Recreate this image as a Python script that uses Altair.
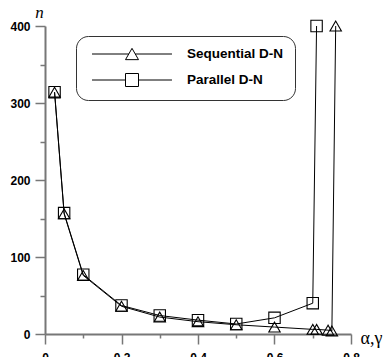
import altair as alt
import pandas as pd

# ---- data ----
series_names = ["Sequential D-N", "Parallel D-N"]
seq_a = [0.025, 0.05, 0.1, 0.2, 0.3, 0.4, 0.5, 0.6, 0.7, 0.71, 0.74, 0.75, 0.76]
seq_n = [314, 156, 76, 36, 22, 16, 12, 9, 6, 6, 5, 4, 400]
par_a = [0.025, 0.05, 0.1, 0.2, 0.3, 0.4, 0.5, 0.6, 0.7, 0.71]
par_n = [314, 157, 77, 37, 24, 18, 13, 21, 40, 400]
x_ticks = [0, 0.1, 0.2, 0.3, 0.4, 0.5, 0.6, 0.7, 0.8]
y_ticks = [0, 50, 100, 150, 200, 250, 300, 350, 400]

rows = []
for i, (a, n) in enumerate(zip(seq_a, seq_n)):
    rows.append({"series": series_names[0], "a": a, "n": n, "i": i})
for i, (a, n) in enumerate(zip(par_a, par_n)):
    rows.append({"series": series_names[1], "a": a, "n": n, "i": i})
df = pd.DataFrame(rows)

AXIS_GRAY = "#777777"

x_axis = alt.Axis(
    values=x_ticks, format="~g", grid=False,
    labelExpr="round(datum.value*10) % 2 === 0 ? datum.label : ''",
    tickSize={"condition": {"test": "round(datum.value*10) % 2 === 0", "value": 10}, "value": 4},
    domainColor=AXIS_GRAY, domainWidth=2, tickColor=AXIS_GRAY, tickWidth=1.5,
    labelFont="Liberation Sans", labelFontWeight="bold", labelFontSize=12, labelColor="black",
    labelPadding=8, labelBaseline="top", labelFlush=False, labelOverlap=False,
    title="α,γ", titleFont="Liberation Serif", titleFontSize=18, titleFontWeight="normal",
    titleColor="black", titleX=315, titleY=9, titleAlign="left", titleBaseline="alphabetic",
    titleAnchor="start",
)
y_axis = alt.Axis(
    values=y_ticks, grid=False,
    labelExpr="datum.value % 100 === 0 ? datum.label : ''",
    tickSize={"condition": {"test": "datum.value % 100 === 0", "value": 10}, "value": 5},
    domainColor=AXIS_GRAY, domainWidth=2, tickColor=AXIS_GRAY, tickWidth=1.5,
    labelFont="Liberation Sans", labelFontWeight="bold", labelFontSize=12, labelColor="black",
    labelPadding=5, labelFlush=False, labelOverlap=False,
    title="n", titleFont="Liberation Serif", titleFontSize=17, titleFontStyle="italic",
    titleFontWeight="normal", titleColor="black", titleAngle=0, titleX=-6, titleY=-9,
    titleAlign="center", titleBaseline="alphabetic",
)

X = alt.X("a:Q", scale=alt.Scale(domain=[0, 0.8], nice=False, zero=False), axis=x_axis)
Y = alt.Y("n:Q", scale=alt.Scale(domain=[0, 400], nice=False), axis=y_axis)

base = alt.Chart(df).encode(x=X, y=Y)

lines = base.mark_line(color="black", strokeWidth=1).encode(
    detail="series:N", order="i:Q"
)

points = base.mark_point(filled=False, color="black", strokeWidth=1.1, size=130, opacity=1).encode(
    shape=alt.Shape("series:N",
                    scale=alt.Scale(domain=series_names, range=["triangle-up", "square"]),
                    legend=None)
)

tri_path = "M-6.15,0H-0.5M0.5,0H6.15M-1,0.87L0,-0.87L1,0.87Z"
sq_path = "M-6.15,0H-1M1,0H6.15M-1,-1H1V1H-1Z"

legend_layer = base.mark_point(filled=False, color="black", opacity=0).encode(
    shape=alt.Shape(
        "series:N",
        scale=alt.Scale(domain=series_names, range=[tri_path, sq_path]),
        legend=alt.Legend(
            orient="none", legendX=31, legendY=10, title=None,
            padding=11, rowPadding=9, cornerRadius=12,
            strokeColor="#333333", fillColor="white",
            symbolSize=169, symbolStrokeWidth=1, symbolStrokeColor="black",
            symbolFillColor="transparent", symbolOpacity=1,
            symbolOffset=38, labelOffset=48, labelLimit=0,
            labelFont="Liberation Sans", labelFontWeight="bold", labelFontSize=13.5,
            labelColor="black",
        ),
    )
)

chart = (
    alt.layer(lines, points, legend_layer)
    .resolve_scale(shape="independent")
    .properties(
        width=306, height=308,
        autosize=alt.AutoSizeParams(type="none"),
        padding={"left": 45, "top": 26, "right": 39, "bottom": 23},
        background="white",
    )
    .configure_view(stroke=None)
)

chart.save("out.html", embed_options={"renderer": "svg", "actions": False})
